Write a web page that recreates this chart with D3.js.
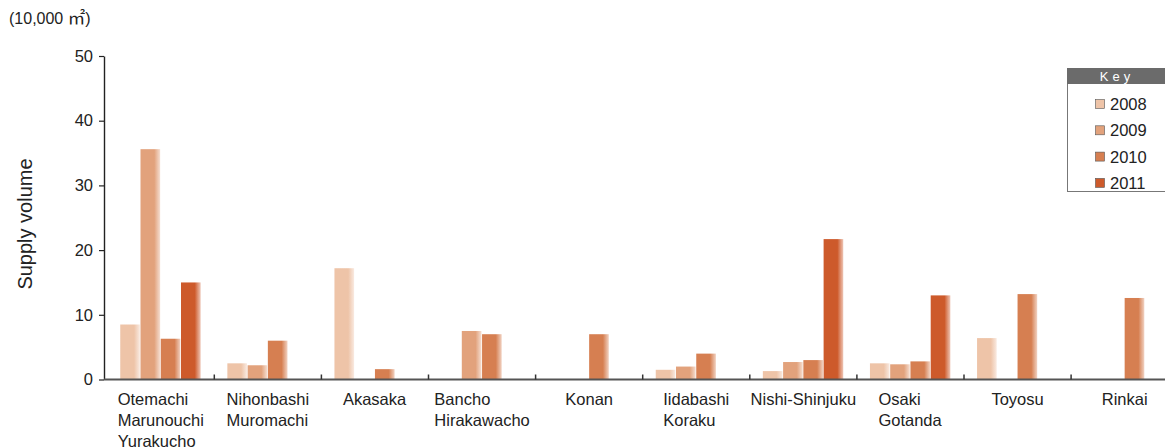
<!DOCTYPE html>
<html>
<head>
<meta charset="utf-8">
<script src="https://cdn.jsdelivr.net/npm/d3@7"></script>
<style>
  html, body { margin: 0; padding: 0; background: #fff; }
  svg { display: block; font-family: "Liberation Sans", Arial, Helvetica, sans-serif; }
</style>
</head>
<body>
<svg id="chart" width="1165" height="448"></svg>
<script>
// ---- data ----
const categoryLines = [
  ["Otemachi", "Marunouchi", "Yurakucho"],
  ["Nihonbashi", "Muromachi"],
  ["Akasaka"],
  ["Bancho", "Hirakawacho"],
  ["Konan"],
  ["Iidabashi", "Koraku"],
  ["Nishi-Shinjuku"],
  ["Osaki", "Gotanda"],
  ["Toyosu"],
  ["Rinkai"]
];
const categories = categoryLines.map(l => l.join(" "));
const years = ["2008", "2009", "2010", "2011"];
const v2008 = [8.5, 2.5, 17.2, null, null, 1.5, 1.3, 2.5, 6.4, null];
const v2009 = [35.6, 2.2, null, 7.5, null, 2.0, 2.7, 2.35, null, null];
const v2010 = [6.3, 6.0, 1.6, 7.0, 7.0, 4.0, 3.0, 2.8, 13.2, 12.6];
const v2011 = [15.0, null, null, null, null, null, 21.7, 13.0, null, null];
const seriesValues = [v2008, v2009, v2010, v2011];
const colors = ["#eec4a8", "#e2a27c", "#d67f51", "#cd5a2b"];
const yTicks = [0, 10, 20, 30, 40, 50];
const unitPrefix = "(10,000 ";
const unitSymbol = "\u33A1";
const unitSuffix = ")";
const yTitle = "Supply volume";
const legendTitle = "Key";

// ---- scales ----
const svg = d3.select("#chart");
const x = d3.scaleBand().domain(categories).range([107.2, 1178.2]).padding(0);
const groupW = 81;
const x1 = d3.scaleBand().domain(years)
  .range([x.bandwidth() / 2 - groupW / 2, x.bandwidth() / 2 + groupW / 2]).padding(0);
const y = d3.scaleLinear().domain([0, 50]).range([379.5, 56]);

// gradients for bars (fade to light on right edge)
const defs = svg.append("defs");
years.forEach((yr, i) => {
  const g = defs.append("linearGradient").attr("id", "g" + yr)
    .attr("x1", "0").attr("x2", "1").attr("y1", "0").attr("y2", "0");
  g.append("stop").attr("offset", "0").attr("stop-color", colors[i]);
  g.append("stop").attr("offset", "0.7").attr("stop-color", colors[i]);
  g.append("stop").attr("offset", "1").attr("stop-color", d3.interpolateRgb(colors[i], "#fff")(0.65));
});

// ---- bars ----
const barData = [];
categories.forEach((c, ci) => {
  years.forEach((yr, yi) => {
    const v = seriesValues[yi][ci];
    if (v != null) barData.push({ c, yr, v });
  });
});
svg.append("g").selectAll("rect").data(barData).join("rect")
  .attr("x", d => x(d.c) + x1(d.yr))
  .attr("width", x1.bandwidth() - 0.6)
  .attr("y", d => y(d.v))
  .attr("height", d => y(0) - y(d.v))
  .attr("fill", d => `url(#g${d.yr})`);

// ---- y axis ----
const yAxis = d3.axisLeft(y).tickValues(yTicks).tickSize(5).tickSizeOuter(0).tickPadding(6);
const gy = svg.append("g").attr("transform", "translate(104,0)").call(yAxis);
gy.select(".domain").attr("stroke", "#222").attr("stroke-width", 1.4);
gy.selectAll(".tick line").attr("stroke", "#222").attr("stroke-width", 1.2);
gy.selectAll(".tick text").attr("fill", "#222").attr("font-size", 16.5)
  .attr("font-family", "Liberation Sans, Arial, sans-serif");

// ---- x axis ----
svg.append("line").attr("x1", 104).attr("x2", 1165)
  .attr("y1", y(0)).attr("y2", y(0))
  .attr("stroke", "#555").attr("stroke-width", 2);
svg.append("g").selectAll("line").data(categories.slice(1)).join("line")
  .attr("x1", d => x(d)).attr("x2", d => x(d))
  .attr("y1", y(0)).attr("y2", y(0) - 5)
  .attr("stroke", "#333").attr("stroke-width", 1.5);

const labels = svg.append("g").selectAll("text").data(categories).join("text")
  .attr("fill", "#222").attr("font-size", 16.5);
labels.each(function (d, i) {
  const t = d3.select(this);
  categoryLines[i].forEach((ln, k) => {
    t.append("tspan").attr("x", 0).attr("y", 405 + k * 21).text(ln);
  });
  const w = this.getBBox().width;
  t.attr("transform", `translate(${x(d) + x.bandwidth() / 2 - w / 2},0)`);
});

// ---- titles ----
const ut = svg.append("text").attr("x", 9).attr("y", 24).attr("font-size", 16).attr("fill", "#222");
ut.append("tspan").text(unitPrefix);
ut.append("tspan").attr("font-size", 17.5)
  .attr("font-family", "Noto Sans CJK JP, sans-serif").text(unitSymbol);
ut.append("tspan").text(unitSuffix);
svg.append("text").attr("transform", "translate(32,224) rotate(-90)")
  .attr("text-anchor", "middle").attr("font-size", 20).attr("fill", "#222")
  .text(yTitle);

// ---- legend ----
const lg = svg.append("g").attr("transform", "translate(1067,68)");
lg.append("rect").attr("x", 0.5).attr("y", 0.5).attr("width", 110).attr("height", 123)
  .attr("fill", "#fff").attr("stroke", "#777").attr("stroke-width", 1);
lg.append("rect").attr("x", 0).attr("y", 0).attr("width", 111).attr("height", 16)
  .attr("fill", "#6b6b6b");
lg.append("text").attr("x", 50).attr("y", 13).attr("text-anchor", "middle")
  .attr("fill", "#fff").attr("font-size", 13).attr("letter-spacing", 4)
  .text(legendTitle);
const items = lg.selectAll("g.item").data(years).join("g").attr("class", "item")
  .attr("transform", (d, i) => `translate(0,${36 + i * 26.3})`);
items.append("rect").attr("x", 28.5).attr("y", -4.5).attr("width", 9).attr("height", 9)
  .attr("fill", (d, i) => colors[i]).attr("stroke", "#555").attr("stroke-width", 0.6);
items.append("text").attr("x", 43).attr("y", 0).attr("dy", "0.36em")
  .attr("font-size", 16.5).attr("fill", "#222").text(d => d);
</script>
</body>
</html>
